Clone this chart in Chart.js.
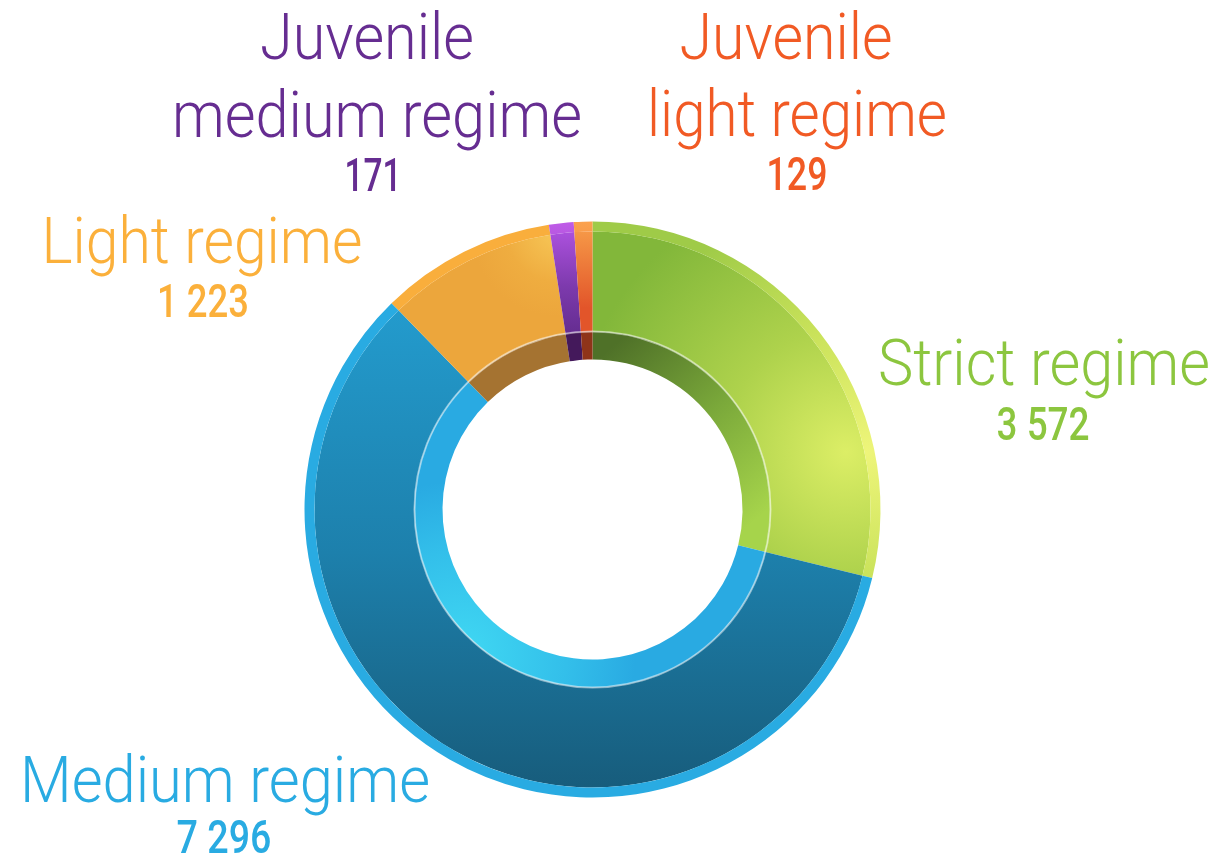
<!DOCTYPE html>
<html>
<head>
<meta charset="utf-8">
<script src="https://cdn.jsdelivr.net/npm/chart.js@4/dist/chart.umd.min.js"></script>
<style>
html, body { margin: 0; padding: 0; background: #fff; }
canvas { display: block; }
</style>
</head>
<body>
<canvas id="regime-chart" width="1217" height="863"></canvas>
<script>
// data
var categories = ["Strict regime", "Medium regime", "Light regime", "Juvenile medium regime", "Juvenile light regime"];
var counts = [3572, 7296, 1223, 171, 129];
var countLabels = ["3 572", "7 296", "1 223", "171", "129"];
var textColors = ["#8cc63f", "#29abe2", "#fbb03b", "#662d91", "#f15a24"];

// where the text goes (centre x, baseline y, target width)
var labelLayout = [
    { lines: [["Strict regime", 1044, 385, 332]], num: [1043, 440, 93] },
    { lines: [["Medium regime", 225, 802, 410]], num: [224, 853, 95] },
    { lines: [["Light regime", 202, 263, 321]], num: [203, 317, 92] },
    { lines: [["Juvenile", 367, 59, 214], ["medium regime", 377, 137, 410]], num: [373, 191, 57] },
    { lines: [["Juvenile", 786, 59, 213], ["light regime", 797, 136, 300]], num: [797, 190, 61] }
];

function geo(chart) {
    var a = chart.chartArea;
    return { x: (a.left + a.right) / 2, y: (a.top + a.bottom) / 2, r: Math.min(a.width, a.height) / 2 };
}

function radial(ctx, g, fx, fy, fr, stops) {
    var gr = ctx.createRadialGradient(g.x + fx * g.r, g.y + fy * g.r, 0, g.x + fx * g.r, g.y + fy * g.r, fr * g.r);
    stops.forEach(function (s) { gr.addColorStop(s[0], s[1]); });
    return gr;
}

function linear(ctx, g, x0, y0, x1, y1, stops) {
    var gr = ctx.createLinearGradient(g.x + x0 * g.r, g.y + y0 * g.r, g.x + x1 * g.r, g.y + y1 * g.r);
    stops.forEach(function (s) { gr.addColorStop(s[0], s[1]); });
    return gr;
}

var edgeFlat = ["#b9da55", "#29abe2", "#f9ae3c", "#a744d6", "#f2733a"];
var mainFlat = ["#8abd3c", "#1f86b4", "#eca63c", "#6a2f95", "#e35a2a"];
var innerFlat = ["#6f9a34", "#29aae2", "#a57331", "#44195b", "#8f3419"];

function edgeColor(c) {
    var chart = c.chart;
    if (!chart.chartArea) return edgeFlat[c.dataIndex];
    var g = geo(chart), ctx = chart.ctx;
    switch (c.dataIndex) {
        case 0: return radial(ctx, g, 0.95, -0.2, 0.9, [[0, "#eef57a"], [0.5, "#c9e25a"], [1, "#9fcb48"]]);
        case 3: return linear(ctx, g, 0, -1, 0, -0.6, [[0, "#c05ce8"], [1, "#7a38b0"]]);
        case 4: return linear(ctx, g, 0, -1, 0, -0.6, [[0, "#fba24e"], [1, "#ea6230"]]);
        default: return edgeFlat[c.dataIndex];
    }
}

function mainColor(c) {
    var chart = c.chart;
    if (!chart.chartArea) return mainFlat[c.dataIndex];
    var g = geo(chart), ctx = chart.ctx;
    switch (c.dataIndex) {
        case 0: return radial(ctx, g, 0.88, -0.2, 0.95, [[0, "#dcee66"], [0.45, "#aed24c"], [1, "#82b73a"]]);
        case 1: return linear(ctx, g, 0, -0.7, 0, 1, [[0, "#239bcd"], [0.5, "#1d80ac"], [1, "#175b7a"]]);
        case 2: return radial(ctx, g, -0.12, -0.97, 0.3, [[0, "#f7c858"], [0.6, "#efad40"], [1, "#eca63c"]]);
        case 3: return linear(ctx, g, 0, -1, 0, -0.55, [[0, "#b455e6"], [0.5, "#7d3aad"], [1, "#5c2886"]]);
        case 4: return linear(ctx, g, 0, -1, 0, -0.7, [[0, "#f8a04a"], [1, "#e2552a"]]);
    }
}

function innerColor(c) {
    var chart = c.chart;
    if (!chart.chartArea) return innerFlat[c.dataIndex];
    var g = geo(chart), ctx = chart.ctx;
    switch (c.dataIndex) {
        case 0: return linear(ctx, g, 0.05, -0.55, 0.55, 0.05, [[0, "#4f7128"], [0.5, "#7aa83a"], [1, "#a6d44b"]]);
        case 1: return radial(ctx, g, -0.45, 0.5, 0.6, [[0, "#40d8f3"], [0.6, "#33bfea"], [1, "#29aae2"]]);
        default: return innerFlat[c.dataIndex];
    }
}

var ringLine = {
    id: "ringLine",
    afterDatasetsDraw: function (chart) {
        var arc = chart.getDatasetMeta(2).data[0];
        var ctx = chart.ctx;
        ctx.save();
        ctx.beginPath();
        ctx.arc(arc.x, arc.y, arc.outerRadius, 0, Math.PI * 2);
        ctx.strokeStyle = "rgba(255,255,255,0.5)";
        ctx.lineWidth = 2;
        ctx.stroke();
        ctx.restore();
    }
};

function fitText(ctx, text, cx, y, w) {
    var m = ctx.measureText(text).width;
    ctx.save();
    ctx.translate(cx, y);
    ctx.scale(w / m, 1);
    ctx.fillText(text, 0, 0);
    ctx.restore();
}

var regimeLabels = {
    id: "regimeLabels",
    afterDraw: function (chart) {
        var ctx = chart.ctx;
        ctx.save();
        ctx.textAlign = "center";
        ctx.textBaseline = "alphabetic";
        labelLayout.forEach(function (l, i) {
            ctx.fillStyle = textColors[i];
            ctx.font = "300 64px 'Roboto Light', Roboto, 'Open Sans', sans-serif";
            l.lines.forEach(function (ln) { fitText(ctx, ln[0], ln[1], ln[2], ln[3]); });
            ctx.font = "500 46px 'Roboto Medium', Roboto, 'Liberation Sans', sans-serif";
            fitText(ctx, countLabels[i], l.num[0], l.num[1], l.num[2]);
        });
        ctx.restore();
    }
};

var ctx = document.getElementById("regime-chart");

var myChart = new Chart(ctx, {
    type: "doughnut",
    data: {
        labels: categories,
        datasets: [
            { data: counts, weight: 10, backgroundColor: edgeColor },
            { data: counts, weight: 100, backgroundColor: mainColor },
            { data: counts, weight: 28, backgroundColor: innerColor }
        ]
    },
    options: {
        responsive: false,
        animation: false,
        cutout: "52.08%",
        borderWidth: 0,
        hoverOffset: 0,
        layout: { padding: { left: 304.5, right: 336.5, top: 221.5, bottom: 65.5 } },
        plugins: {
            legend: { display: false },
            tooltip: { enabled: false }
        }
    },
    plugins: [ringLine, regimeLabels]
});
</script>
</body>
</html>
